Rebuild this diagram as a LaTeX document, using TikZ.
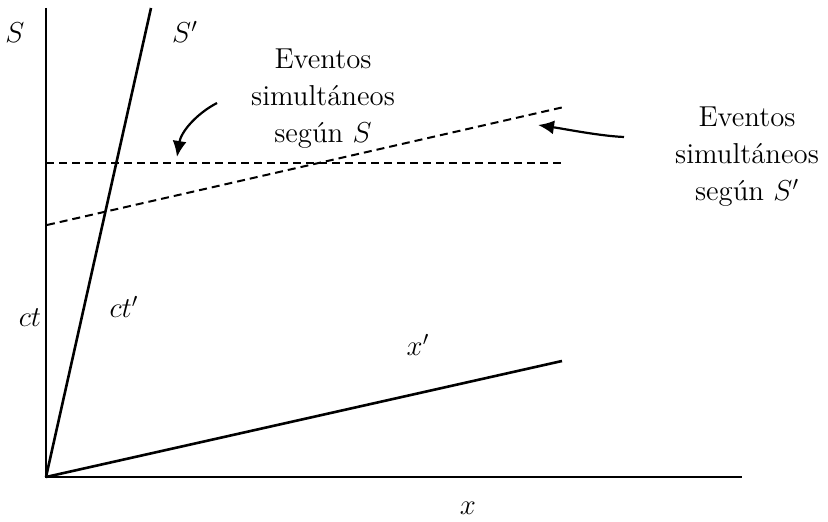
\documentclass[tikz,border=0pt]{standalone}
\usetikzlibrary{arrows.meta}
\begin{document}
\begin{tikzpicture}[x=0.5pt,y=-0.5pt,
  axis/.style={line width=1.3pt},
  simline/.style={line width=1pt,dash pattern=on 4pt off 2.5pt},
  pointer/.style={line width=1.1pt,-{Latex[length=8pt,width=7pt]}},
  lbl/.style={font=\fontsize{14.4}{18}\selectfont,inner sep=0pt},
  note/.style={font=\fontsize{14.4}{18.5}\selectfont,align=center,inner sep=0pt}]
\useasboundingbox (0,0) rectangle (828,522);
% axes
\coordinate (O) at (46,477);
\coordinate (ttop) at (46,8);
\coordinate (xend) at (742,477);
\coordinate (sptop) at (151,8);
\coordinate (xpend) at (562,361);
\draw[axis] (ttop) -- (O) -- (xend);
\draw[axis] (O) -- (sptop);
\draw[axis] (O) -- (xpend);
% simultaneity lines
\coordinate (h1) at (46,163);
\coordinate (h2) at (564,163);
\coordinate (s1) at (47,225);
\coordinate (s2) at (564,107);
\draw[simline] (h1) -- (h2);
\draw[simline] (s1) -- (s2);
% labels
\node[lbl] (lS) at (15,33) {$S$};
\node[lbl] (lSp) at (185,32) {$S'$};
\node[lbl] (lct) at (30,318) {$ct$};
\node[lbl] (lctp) at (124,307) {$ct'$};
\node[lbl] (lxp) at (418,345) {$x'$};
\node[lbl] (lx) at (468,508) {$x$};
% notes
\node[note] (n1) at (323,99) {Eventos\\simultáneos\\según $S$};
\node[note] (n2) at (747,157) {Eventos\\simultáneos\\según $S'$};
% arrows
\coordinate (a1s) at (217,103);
\coordinate (a1e) at (177,157);
\draw[pointer] (a1s) .. controls (196,114) and (181,132) .. (a1e);
\coordinate (a2s) at (624,137);
\coordinate (a2e) at (538,125);
\draw[pointer] (a2s) .. controls (600,136) and (565,129) .. (a2e);
\end{tikzpicture}
\end{document}
